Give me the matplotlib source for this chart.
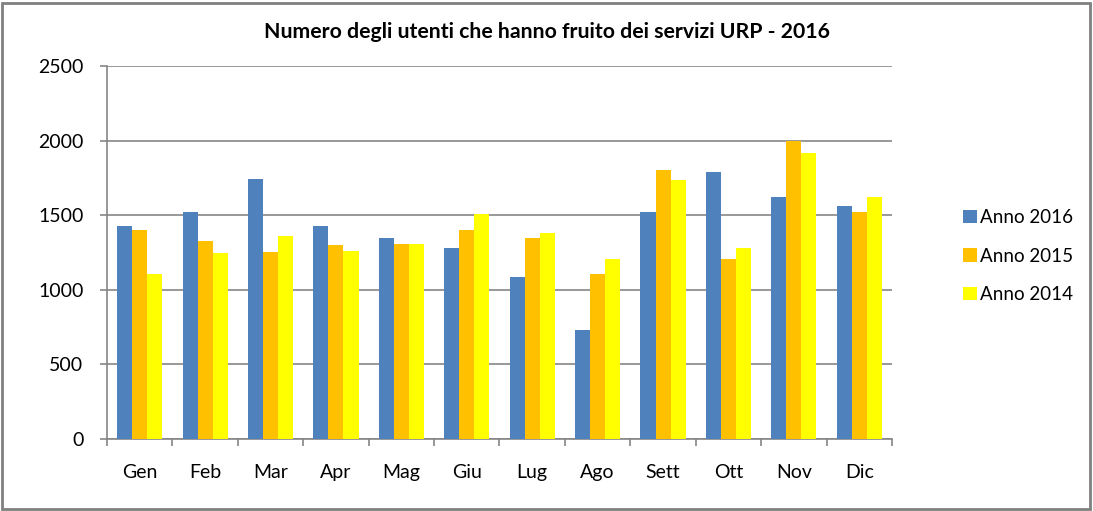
import numpy as np
import matplotlib
matplotlib.use('Agg')
import matplotlib.pyplot as plt
from matplotlib.patches import Rectangle, Patch

matplotlib.rcParams['font.family'] = ['Lato', 'DejaVu Sans']

mesi = ['Gen', 'Feb', 'Mar', 'Apr', 'Mag', 'Giu', 'Lug', 'Ago', 'Sett', 'Ott', 'Nov', 'Dic']
anno_2016 = [1425, 1520, 1740, 1425, 1345, 1278, 1085, 730, 1520, 1790, 1625, 1560]
anno_2015 = [1400, 1330, 1250, 1300, 1310, 1400, 1350, 1105, 1800, 1205, 2000, 1520]
anno_2014 = [1105, 1245, 1360, 1260, 1305, 1505, 1380, 1205, 1735, 1280, 1920, 1620]
serie = ['Anno 2016', 'Anno 2015', 'Anno 2014']
colori = ['#4F81BD', '#FFC000', '#FFFF00']
yticks = [0, 500, 1000, 1500, 2000, 2500]

fig = plt.figure(figsize=(10.93, 5.11), dpi=100)
ax = fig.add_axes([107/1093, 1-439/511, 785/1093, 373/511])

x = np.arange(len(mesi))
w = 0.23
for i, (vals, c) in enumerate(zip([anno_2016, anno_2015, anno_2014], colori)):
    ax.bar(x + (i-1)*w, vals, width=w, color=c, edgecolor='none', zorder=3)

grid_c = '#868686'
ax.set_ylim(0, 2500)
ax.set_xlim(-0.5, len(mesi)-0.5)
ax.set_yticks(yticks)
ax.yaxis.grid(True, color=grid_c, linewidth=1.2, zorder=0)
ax.set_xticks(x)
ax.set_xticklabels(mesi)
ax.set_xticks(np.arange(len(mesi)+1) - 0.5, minor=True)
ax.tick_params(axis='x', which='major', length=0, pad=18, labelsize=14)
ax.tick_params(axis='x', which='minor', length=5, color=grid_c, width=1.2)
ax.tick_params(axis='y', length=5, color=grid_c, width=1.2, pad=12, labelsize=14)
for s in ['top', 'right']:
    ax.spines[s].set_visible(False)
for s in ['left', 'bottom']:
    ax.spines[s].set_color(grid_c)
    ax.spines[s].set_linewidth(1.2)

fig.text(547/1093, 1-32/511, 'Numero degli utenti che hanno fruito dei servizi URP - 2016',
         ha='center', va='center', fontsize=15.3, fontweight='bold')

handles = [Patch(facecolor=c, edgecolor='none') for c in colori]
fig.legend(handles, serie, loc='center left', bbox_to_anchor=(946/1093, 1-256/511),
           frameon=False, fontsize=13.5, handlelength=0.75, handleheight=0.75,
           handletextpad=0.15, labelspacing=1.15)

fig.patches.append(Rectangle((2/1093, 2/511), 1088/1093, 506/511, transform=fig.transFigure,
                             fill=False, edgecolor='#808080', linewidth=2))

fig.savefig('out.png', dpi=100)
